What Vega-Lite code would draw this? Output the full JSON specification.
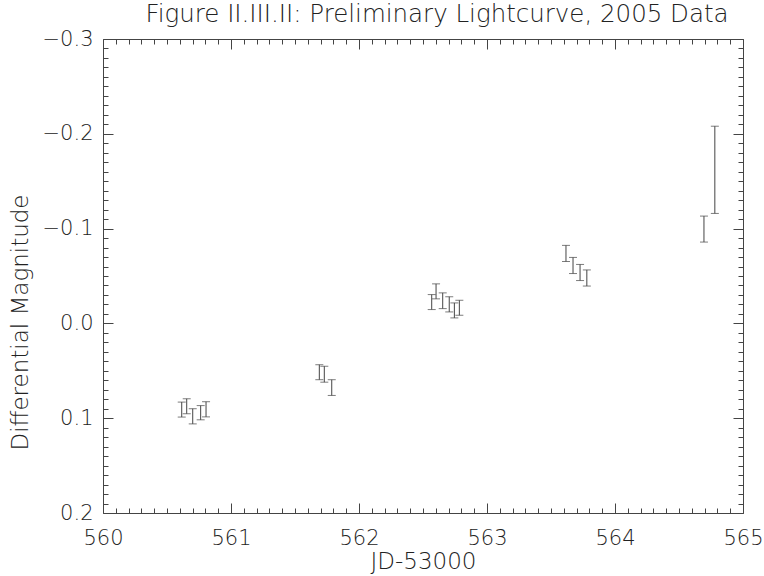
{
  "$schema": "https://vega.github.io/schema/vega-lite/v6.json",
  "autosize": {"type": "none"},
  "width": 640,
  "height": 474,
  "padding": {"left": 103, "top": 39, "right": 21, "bottom": 63},
  "background": "white",
  "title": {
    "text": "Figure II.III.II: Preliminary Lightcurve, 2005 Data",
    "font": "DejaVu Sans",
    "fontWeight": 200,
    "fontSize": 24.5,
    "color": "#222222",
    "anchor": "middle",
    "baseline": "alphabetic",
    "dx": 14,
    "dy": 16,
    "offset": -2
  },
  "config": {
    "view": {"stroke": "#444444", "strokeWidth": 1},
    "axis": {
      "domain": false,
      "grid": false,
      "tickColor": "#444444",
      "tickWidth": 1,
      "labelFont": "DejaVu Sans",
      "labelFontWeight": 200,
      "labelFontSize": 21,
      "labelColor": "#222222",
      "titleFont": "DejaVu Sans",
      "titleFontWeight": 200,
      "titleFontSize": 23,
      "titleColor": "#222222"
    }
  },
  "data": {
    "values": [
      {"jd": 560.615, "lo": 0.0830, "hi": 0.0988},
      {"jd": 560.654, "lo": 0.0795, "hi": 0.0953},
      {"jd": 560.701, "lo": 0.0900, "hi": 0.1060},
      {"jd": 560.763, "lo": 0.0867, "hi": 0.1017},
      {"jd": 560.805, "lo": 0.0826, "hi": 0.0986},
      {"jd": 561.690, "lo": 0.0436, "hi": 0.0594},
      {"jd": 561.729, "lo": 0.0452, "hi": 0.0620},
      {"jd": 561.787, "lo": 0.0594, "hi": 0.0760},
      {"jd": 562.568, "lo": -0.0304, "hi": -0.0146},
      {"jd": 562.602, "lo": -0.0417, "hi": -0.0259},
      {"jd": 562.654, "lo": -0.0322, "hi": -0.0156},
      {"jd": 562.705, "lo": -0.0281, "hi": -0.0121},
      {"jd": 562.745, "lo": -0.0216, "hi": -0.0058},
      {"jd": 562.784, "lo": -0.0244, "hi": -0.0086},
      {"jd": 563.617, "lo": -0.0823, "hi": -0.0653},
      {"jd": 563.672, "lo": -0.0696, "hi": -0.0526},
      {"jd": 563.727, "lo": -0.0622, "hi": -0.0452},
      {"jd": 563.780, "lo": -0.0564, "hi": -0.0394},
      {"jd": 564.695, "lo": -0.1132, "hi": -0.0858},
      {"jd": 564.780, "lo": -0.2080, "hi": -0.1160}
    ]
  },
  "resolve": {"axis": {"x": "independent", "y": "independent"}},
  "layer": [
    {
      "mark": {"type": "rule", "color": "#444444", "strokeWidth": 1},
      "encoding": {
        "x": {
          "field": "jd", "type": "quantitative",
          "scale": {"domain": [560, 565], "nice": false, "zero": false},
          "axis": {
            "orient": "bottom", "values": [560, 561, 562, 563, 564, 565],
            "format": "d", "tickSize": -10, "labelPadding": 24,
            "labelFlush": false, "labelOverlap": false,
            "title": "JD-53000", "titlePadding": 2
          }
        },
        "y": {
          "field": "lo", "type": "quantitative",
          "scale": {"domain": [-0.3, 0.2], "nice": false, "zero": false, "reverse": true},
          "axis": {
            "orient": "left", "values": [-0.3, -0.2, -0.1, 0, 0.1, 0.2],
            "format": ".1f", "tickSize": -10, "labelPadding": 20,
            "labelFlush": false, "labelOverlap": false,
            "title": "Differential Magnitude", "titlePadding": 10, "titleY": 283
          }
        },
        "y2": {"field": "hi"}
      }
    },
    {
      "mark": {"type": "tick", "orient": "horizontal", "color": "#444444", "size": 8, "thickness": 1},
      "encoding": {
        "x": {
          "field": "jd", "type": "quantitative",
          "axis": {
            "orient": "bottom", "labels": false, "title": null, "tickSize": -5,
            "values": [560.1,560.2,560.3,560.4,560.5,560.6,560.7,560.8,560.9,561.1,561.2,561.3,561.4,561.5,561.6,561.7,561.8,561.9,562.1,562.2,562.3,562.4,562.5,562.6,562.7,562.8,562.9,563.1,563.2,563.3,563.4,563.5,563.6,563.7,563.8,563.9,564.1,564.2,564.3,564.4,564.5,564.6,564.7,564.8,564.9]
          }
        },
        "y": {
          "field": "lo", "type": "quantitative",
          "axis": {
            "orient": "left", "labels": false, "title": null, "tickSize": -5,
            "values": [-0.29,-0.28,-0.27,-0.26,-0.25,-0.24,-0.23,-0.22,-0.21,-0.19,-0.18,-0.17,-0.16,-0.15,-0.14,-0.13,-0.12,-0.11,-0.09,-0.08,-0.07,-0.06,-0.05,-0.04,-0.03,-0.02,-0.01,0.01,0.02,0.03,0.04,0.05,0.06,0.07,0.08,0.09,0.11,0.12,0.13,0.14,0.15,0.16,0.17,0.18,0.19]
          }
        }
      }
    },
    {
      "mark": {"type": "tick", "orient": "horizontal", "color": "#444444", "size": 8, "thickness": 1},
      "encoding": {
        "x": {
          "field": "jd", "type": "quantitative",
          "axis": {
            "orient": "top", "labels": false, "title": null, "tickSize": -10,
            "values": [560, 561, 562, 563, 564, 565]
          }
        },
        "y": {
          "field": "hi", "type": "quantitative",
          "axis": {
            "orient": "right", "labels": false, "title": null, "tickSize": -10,
            "values": [-0.3, -0.2, -0.1, 0, 0.1, 0.2]
          }
        }
      }
    },
    {
      "mark": {"type": "point", "opacity": 0},
      "encoding": {
        "x": {
          "field": "jd", "type": "quantitative",
          "axis": {
            "orient": "top", "labels": false, "title": null, "tickSize": -5,
            "values": [560.1,560.2,560.3,560.4,560.5,560.6,560.7,560.8,560.9,561.1,561.2,561.3,561.4,561.5,561.6,561.7,561.8,561.9,562.1,562.2,562.3,562.4,562.5,562.6,562.7,562.8,562.9,563.1,563.2,563.3,563.4,563.5,563.6,563.7,563.8,563.9,564.1,564.2,564.3,564.4,564.5,564.6,564.7,564.8,564.9]
          }
        },
        "y": {
          "field": "hi", "type": "quantitative",
          "axis": {
            "orient": "right", "labels": false, "title": null, "tickSize": -5,
            "values": [-0.29,-0.28,-0.27,-0.26,-0.25,-0.24,-0.23,-0.22,-0.21,-0.19,-0.18,-0.17,-0.16,-0.15,-0.14,-0.13,-0.12,-0.11,-0.09,-0.08,-0.07,-0.06,-0.05,-0.04,-0.03,-0.02,-0.01,0.01,0.02,0.03,0.04,0.05,0.06,0.07,0.08,0.09,0.11,0.12,0.13,0.14,0.15,0.16,0.17,0.18,0.19]
          }
        }
      }
    }
  ]
}
